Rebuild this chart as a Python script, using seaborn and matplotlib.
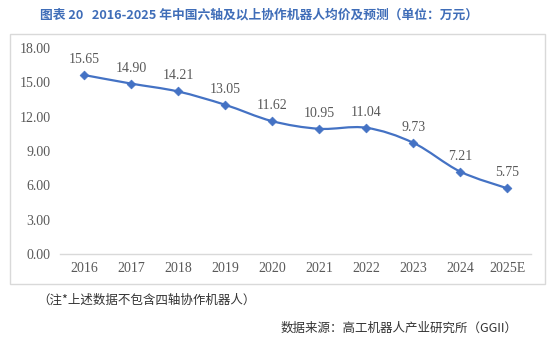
import numpy as np
import pandas as pd
import seaborn as sns
from matplotlib import pyplot as plt
from matplotlib.path import Path
from matplotlib.patches import PathPatch, Rectangle

# 数据
years = ['2016', '2017', '2018', '2019', '2020', '2021', '2022', '2023', '2024', '2025E']
prices = [15.65, 14.90, 14.21, 13.05, 11.62, 10.95, 11.04, 9.73, 7.21, 5.75]
y_ticks = [0, 3, 6, 9, 12, 15, 18]

title = '图表 20   2016-2025 年中国六轴及以上协作机器人均价及预测（单位：万元）'
note = '（注*上述数据不包含四轴协作机器人）'
source = '数据来源：高工机器人产业研究所（GGII）'

df = pd.DataFrame({'year': years, 'price': prices})
df['pos'] = np.arange(len(df))

sns.set_theme(style='white')
plt.rcParams['font.family'] = ['Noto Sans CJK SC', 'DejaVu Sans']

line_color = '#4472C4'
text_color = '#595959'
num_font = ['Liberation Serif', 'DejaVu Serif']

fig = plt.figure(figsize=(5.54, 3.51), dpi=100)
ax = fig.add_axes([0.109, 0.276, 0.849, 0.587])

# 平滑曲线（类似Excel平滑线）
xs = df['pos'].to_numpy(dtype=float)
ys = df['price'].to_numpy(dtype=float)
verts = [(xs[0], ys[0])]
codes = [Path.MOVETO]
t = 1 / 6
for i in range(len(xs) - 1):
    p0 = (xs[max(i - 1, 0)], ys[max(i - 1, 0)])
    p1 = (xs[i], ys[i])
    p2 = (xs[i + 1], ys[i + 1])
    p3 = (xs[min(i + 2, len(xs) - 1)], ys[min(i + 2, len(xs) - 1)])
    c1 = (p1[0] + (p2[0] - p0[0]) * t, p1[1] + (p2[1] - p0[1]) * t)
    c2 = (p2[0] - (p3[0] - p1[0]) * t, p2[1] - (p3[1] - p1[1]) * t)
    verts += [c1, c2, p2]
    codes += [Path.CURVE4] * 3
ax.add_patch(PathPatch(Path(verts, codes), facecolor='none', edgecolor=line_color, lw=1.6, zorder=2))

sns.scatterplot(data=df, x='pos', y='price', marker='D', s=20, color=line_color,
                edgecolor=line_color, linewidth=0.5, ax=ax, zorder=3)

for x, y in zip(xs, ys):
    ax.annotate(f'{y:.2f}', (x, y), xytext=(0, 6.5), textcoords='offset points',
                ha='center', va='bottom', fontsize=10, color=text_color, family=num_font)

ax.set_xlim(-0.5, len(years) - 0.5)
ax.set_ylim(0, 18)
ax.set_xticks(df['pos'])
ax.set_xticklabels(years, family=num_font, fontsize=10, color=text_color)
ax.set_yticks(y_ticks)
ax.set_yticklabels([f'{v:.2f}' for v in y_ticks], family=num_font, fontsize=10, color=text_color)
ax.tick_params(axis='both', length=0)
ax.tick_params(axis='y', pad=7)
ax.tick_params(axis='x', pad=6)
ax.set_xlabel('')
ax.set_ylabel('')
for s in ['top', 'right', 'left']:
    ax.spines[s].set_visible(False)
ax.spines['bottom'].set_color('#D9D9D9')
ax.spines['bottom'].set_linewidth(1)

# 外框
fig.patches.append(Rectangle((10 / 554, 1 - 284 / 351), 535 / 554, 250 / 351,
                             transform=fig.transFigure, facecolor='none',
                             edgecolor='#D9D9D9', lw=1))

fig.text(0.468, 1 - 15 / 351, title, ha='center', va='center', fontsize=9.2,
         fontweight='bold', color='#3F6DB8')
fig.text(37 / 554, 1 - 300 / 351, note, ha='left', va='center', fontsize=9,
         style='italic', color='#333333')
fig.text(518 / 554, 1 - 328 / 351, source, ha='right', va='center', fontsize=9,
         style='italic', color='#333333')

plt.savefig('out.png', dpi=100)
plt.close()
